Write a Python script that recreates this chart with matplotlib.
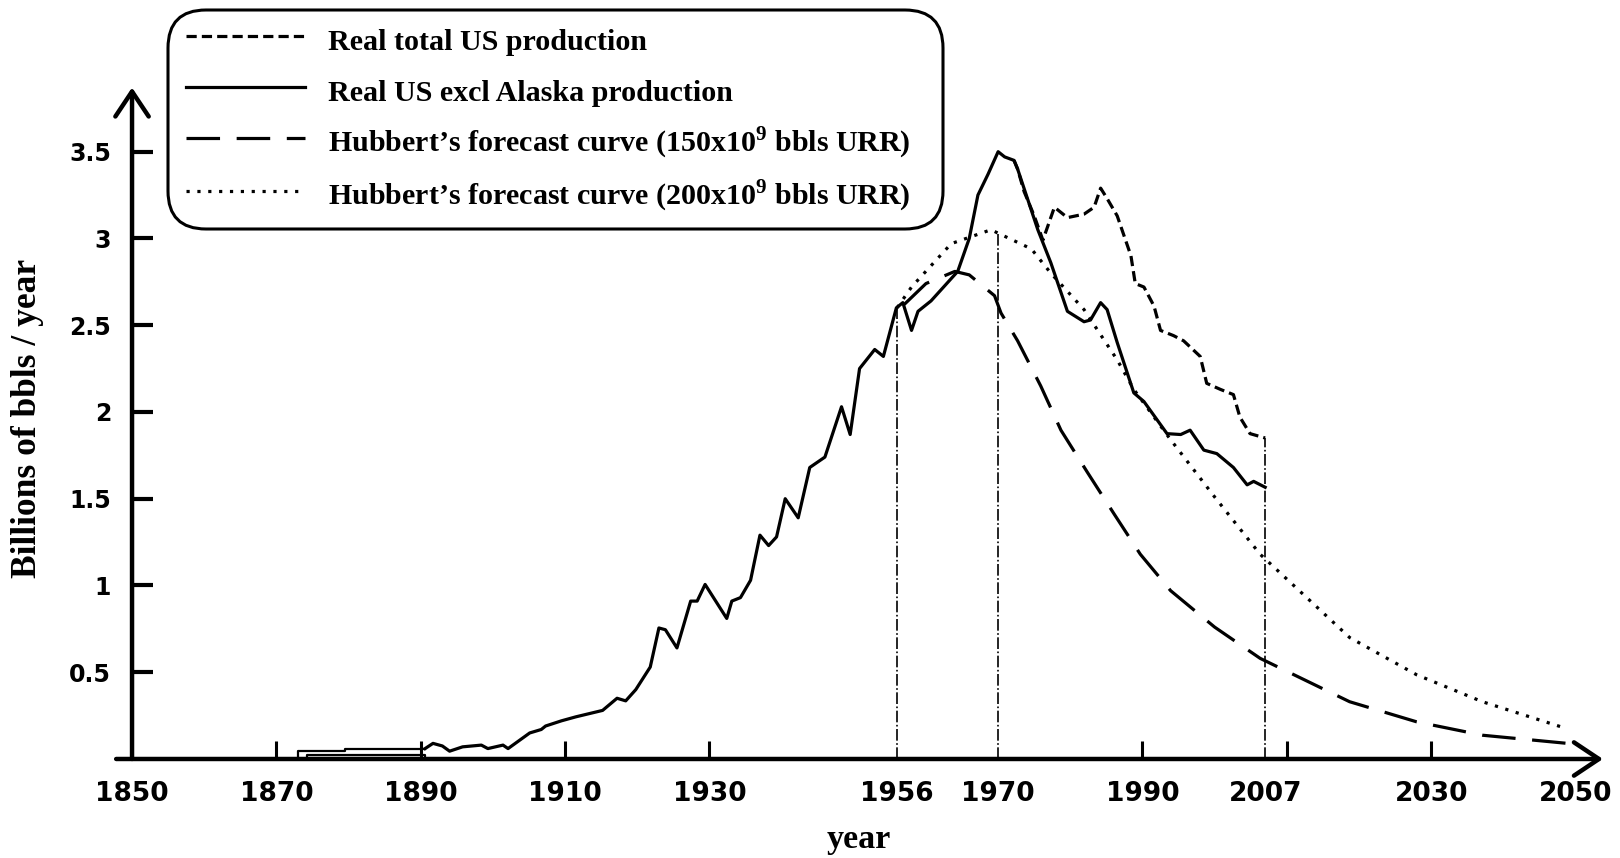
import matplotlib.pyplot as plt
from matplotlib.patches import FancyBboxPatch
from matplotlib.transforms import IdentityTransform

plt.rcParams['mathtext.fontset'] = 'custom'
plt.rcParams['mathtext.rm'] = 'Liberation Serif'
plt.rcParams['mathtext.bf'] = 'Liberation Serif:bold'

# early record, drawn as a thin outline 1873-1890
early_years = [1890.6, 1890.6, 1874.2, 1874.2, 1873.0, 1873.0, 1879.5, 1879.5, 1890.6]
early_vals = [0.0, 0.025, 0.025, 0.0, 0.0, 0.045, 0.045, 0.06, 0.06]

# real US excl Alaska production (billions bbl / year)
excl_years = [1890.6, 1891.7, 1893.0, 1894.0, 1895.8, 1898.4, 1899.3, 1901.4, 1902.1,
              1905.1, 1906.7, 1907.3, 1909.5, 1911.5, 1915.2, 1917.2, 1918.4, 1919.8,
              1921.8, 1923.0, 1923.9, 1925.5, 1927.4, 1928.3, 1929.4, 1932.4, 1933.1,
              1934.3, 1935.7, 1937.0, 1938.2, 1939.3, 1940.5, 1942.3, 1943.9, 1946.0,
              1948.3, 1949.5, 1950.8, 1952.9, 1954.1, 1955.9, 1956.8, 1958.0, 1958.9,
              1960.7, 1964.4, 1966.0, 1967.2, 1968.6, 1970.0, 1970.9, 1972.2, 1972.7,
              1975.5, 1977.3, 1979.6, 1981.9, 1982.8, 1984.2, 1985.1, 1986.5, 1988.8,
              1990.2, 1993.4, 1995.3, 1996.6, 1998.5, 2000.3, 2002.6, 2004.5, 2005.4,
              2007.0]
excl_vals = [0.06, 0.09, 0.075, 0.045, 0.07, 0.08, 0.06, 0.08, 0.06,
             0.15, 0.17, 0.19, 0.22, 0.243, 0.28, 0.35, 0.335, 0.40,
             0.53, 0.755, 0.745, 0.64, 0.91, 0.91, 1.006, 0.81, 0.91,
             0.93, 1.03, 1.29, 1.23, 1.28, 1.50, 1.39, 1.68, 1.74,
             2.03, 1.87, 2.25, 2.36, 2.32, 2.60, 2.63, 2.47, 2.58,
             2.64, 2.81, 3.00, 3.25, 3.37, 3.50, 3.47, 3.45, 3.40,
             3.05, 2.86, 2.58, 2.52, 2.53, 2.63, 2.59, 2.40, 2.11,
             2.06, 1.875, 1.87, 1.895, 1.78, 1.76, 1.68, 1.58, 1.60,
             1.566]

# real total US production
total_years = [1972.2, 1972.7, 1973.6, 1975.0, 1976.2, 1977.8, 1979.6, 1981.9, 1983.3,
               1984.2, 1985.1, 1986.5, 1988.4, 1989.0, 1990.2, 1991.6, 1992.5, 1994.3,
               1995.7, 1998.0, 1998.9, 2000.8, 2002.6, 2003.5, 2004.9, 2007.0]
total_vals = [3.45, 3.40, 3.27, 3.13, 2.99, 3.18, 3.12, 3.14, 3.18,
              3.29, 3.23, 3.13, 2.90, 2.74, 2.72, 2.61, 2.47, 2.44,
              2.41, 2.32, 2.165, 2.13, 2.10, 1.97, 1.875, 1.85]

# Hubbert forecast, 150x10^9 bbls URR
h150_years = [1957.0, 1960.0, 1964.0, 1966.0, 1969.5, 1970.4, 1972.7, 1975.9, 1978.7,
              1982.4, 1986.1, 1989.7, 1993.9, 2000.0, 2006.3, 2018.7, 2028.0, 2037.1, 2049.1]
h150_vals = [2.62, 2.74, 2.81, 2.79, 2.67, 2.57, 2.41, 2.15, 1.895,
             1.65, 1.41, 1.18, 0.97, 0.76, 0.58, 0.33, 0.214, 0.137, 0.089]

# Hubbert forecast, 200x10^9 bbls URR
h200_years = [1956.0, 1958.0, 1963.5, 1969.0, 1974.6, 1977.3, 1981.9, 1986.5, 1988.8,
              1993.9, 2000.0, 2006.3, 2018.7, 2028.0, 2037.1, 2048.7]
h200_vals = [2.60, 2.72, 2.97, 3.05, 2.94, 2.80, 2.59, 2.30, 2.13,
             1.84, 1.51, 1.18, 0.70, 0.485, 0.33, 0.176]

ref_years = [1956, 1970, 2007]
ref_tops = [2.61, 3.04, 1.85]

label_years = [1850, 1870, 1890, 1910, 1930, 1956, 1970, 1990, 2007, 2030, 2050]
mark_years = [1870, 1890, 1910, 1930, 1990, 2010, 2030]
y_ticks = [0.5, 1, 1.5, 2, 2.5, 3, 3.5]

fig = plt.figure(figsize=(16.2, 8.58), dpi=100)
ax = fig.add_axes([0.0815, 0.1154, 0.9111, 0.7887])
ax.set_xlim(1850, 2054.5)
ax.set_ylim(0, 3.9)
for s in ax.spines.values():
    s.set_visible(False)

lw = 2.3
l_tot, = ax.plot(total_years, total_vals, color='black', lw=lw, ls=(0, (3.2, 1.6)))
l_exc, = ax.plot(excl_years, excl_vals, color='black', lw=lw)
ax.plot(early_years, early_vals, color='black', lw=1.6)
l_150, = ax.plot(h150_years, h150_vals, color='black', lw=lw, ls=(0, (10.5, 5.2)))
l_200, = ax.plot(h200_years, h200_vals, color='black', lw=2.3, ls=(0, (1, 2.4)))
ax.vlines(ref_years, 0, ref_tops, colors='black', lw=1.2, linestyles=[(0, (7, 1.5, 1, 1.5))])

# axes with arrows
arr = dict(arrowstyle='->,head_length=0.45,head_width=0.3', lw=3.2, color='black',
           mutation_scale=40, shrinkA=0, shrinkB=0)
ax.annotate('', xy=(1850, 3.87), xytext=(1850, 0), arrowprops=arr, annotation_clip=False)
ax.annotate('', xy=(2053.8, 0), xytext=(1847.8, 0), arrowprops=arr, annotation_clip=False)

ax.xaxis.remove_overlapping_locs = False
ax.set_xticks(label_years)
ax.set_xticklabels([str(y) for y in label_years], fontweight='bold', fontsize=19,
                   family='DejaVu Sans')
ax.set_xticks(mark_years, minor=True)
ax.tick_params(axis='x', which='major', length=0, pad=16)
ax.tick_params(axis='x', which='minor', direction='in', length=13, width=2.2)
ax.set_yticks(y_ticks)
ax.set_yticklabels(['0.5', '1', '1.5', '2', '2.5', '3', '3.5'], fontweight='bold',
                   fontsize=17, family='DejaVu Sans')
ax.tick_params(axis='y', direction='in', length=15, width=3, pad=15)

fig.text(28 / 1620, 1 - 418 / 858, 'Billions of bbls / year', rotation=90, ha='center',
         va='center', fontsize=25.5, fontweight='bold', family='Liberation Serif')
fig.text(859 / 1620, 10 / 858, 'year', ha='center', va='baseline', fontsize=24.5,
         fontweight='bold', family='Liberation Serif')

# rounded legend frame (pixel coordinates)
box = FancyBboxPatch((168, 858 - 229), 775, 219, boxstyle='round,pad=0,rounding_size=38',
                     transform=IdentityTransform(), facecolor='white', edgecolor='black',
                     lw=2.2, zorder=4)
fig.add_artist(box)

labels = ['Real total US production',
          'Real US excl Alaska production',
          r'Hubbert’s forecast curve (150x10$^{\mathbf{9}}$ bbls URR)',
          r'Hubbert’s forecast curve (200x10$^{\mathbf{9}}$ bbls URR)']
leg = fig.legend([l_tot, l_exc, l_150, l_200], labels, loc='upper left',
                 bbox_to_anchor=(186 / 1620, 1 - 22 / 858), borderaxespad=0, borderpad=0,
                 prop={'family': 'Liberation Serif', 'weight': 'bold', 'size': 21.6},
                 handlelength=3.97, handleheight=1.45, handletextpad=0.75,
                 labelspacing=0.52, frameon=False)
leg.set_zorder(5)

fig.savefig('out.png', dpi=100)
